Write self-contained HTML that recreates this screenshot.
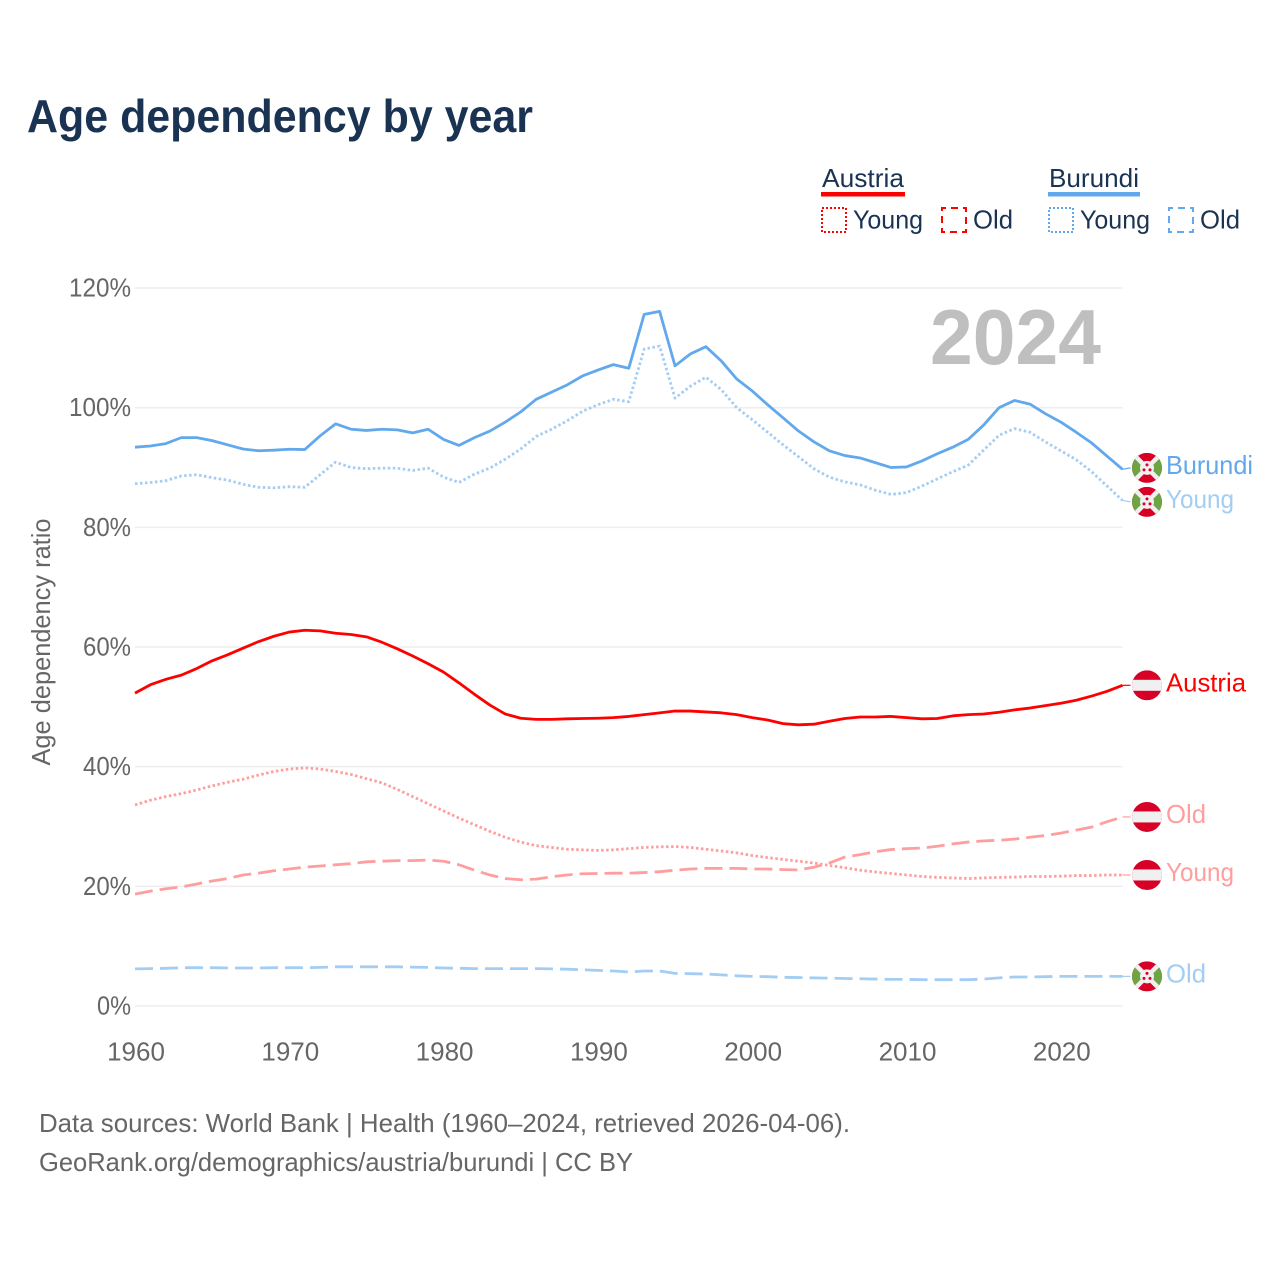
<!DOCTYPE html>
<html lang="en">
<head>
<meta charset="utf-8">
<title>Age dependency by year</title>
<style>
html,body{margin:0;padding:0;background:#fff;}
svg{display:block;}
text{font-family:"Liberation Sans",sans-serif;}
</style>
</head>
<body>
<svg id="chart" xmlns="http://www.w3.org/2000/svg" width="1280" height="1280" viewBox="0 0 1280 1280">
  <defs>
    <clipPath id="flag-clip"><circle cx="0" cy="0" r="15"/></clipPath>
    <g id="flag-austria" clip-path="url(#flag-clip)">
      <rect x="-15" y="-15" width="30" height="30" fill="#d80027"/>
      <rect x="-15" y="-5.5" width="30" height="11" fill="#f0f0f0"/>
    </g>
    <g id="flag-burundi" clip-path="url(#flag-clip)">
      <rect x="-15" y="-15" width="30" height="30" fill="#d80027"/>
      <polygon points="-15,-13 0,0 -15,13" fill="#6da544"/>
      <polygon points="15,-13 0,0 15,13" fill="#6da544"/>
      <path d="M-13,-13L13,13M13,-13L-13,13" stroke="#f0f0f0" stroke-width="4.5"/>
      <circle cx="0" cy="0" r="7" fill="#f0f0f0"/>
      <circle cx="0" cy="-3" r="1.5" fill="#d80027"/>
      <circle cx="-3" cy="2" r="1.5" fill="#d80027"/>
      <circle cx="3" cy="2" r="1.5" fill="#d80027"/>
    </g>
  </defs>

  <text x="27" y="132" font-size="46" font-weight="700" fill="#1a3353" textLength="506" lengthAdjust="spacingAndGlyphs">Age dependency by year</text>

  <g>
    <text x="822" y="187" font-size="26" fill="#1a3353" textLength="82" lengthAdjust="spacingAndGlyphs">Austria</text>
    <rect x="821" y="192" width="84" height="4.5" fill="#ff0000"/>
    <rect x="822" y="208" width="24" height="24" fill="none" stroke="#ff0000" stroke-width="2" stroke-dasharray="2 2"/>
    <text x="853" y="228.5" font-size="26" fill="#1a3353" textLength="70" lengthAdjust="spacingAndGlyphs">Young</text>
    <rect x="942" y="208" width="24" height="24" fill="none" stroke="#ff0000" stroke-width="2" stroke-dasharray="7 5" stroke-dashoffset="3"/>
    <text x="973" y="228.5" font-size="26" fill="#1a3353" textLength="40" lengthAdjust="spacingAndGlyphs">Old</text>
    <text x="1049" y="187" font-size="26" fill="#1a3353" textLength="90" lengthAdjust="spacingAndGlyphs">Burundi</text>
    <rect x="1048" y="192" width="92" height="4.5" fill="#62a8ec"/>
    <rect x="1049" y="208" width="24" height="24" fill="none" stroke="#62a8ec" stroke-width="2" stroke-dasharray="2 2"/>
    <text x="1080" y="228.5" font-size="26" fill="#1a3353" textLength="70" lengthAdjust="spacingAndGlyphs">Young</text>
    <rect x="1169" y="208" width="24" height="24" fill="none" stroke="#62a8ec" stroke-width="2" stroke-dasharray="7 5" stroke-dashoffset="3"/>
    <text x="1200" y="228.5" font-size="26" fill="#1a3353" textLength="40" lengthAdjust="spacingAndGlyphs">Old</text>
  </g>

  <g id="grid"></g>
  <g id="yticks"></g>
  <g id="xticks"></g>

  <text transform="translate(50,642) rotate(-90)" text-anchor="middle" font-size="26" fill="#666666" textLength="247" lengthAdjust="spacingAndGlyphs">Age dependency ratio</text>

  <text x="930" y="364" font-size="78" font-weight="700" fill="#bfbfbf" textLength="171" lengthAdjust="spacingAndGlyphs">2024</text>

  <g id="series"></g>
  <g id="endmarks"></g>

  <text x="39" y="1132" font-size="26" fill="#666666" textLength="811" lengthAdjust="spacingAndGlyphs">Data sources: World Bank | Health (1960–2024, retrieved 2026-04-06).</text>
  <text x="39" y="1171" font-size="26" fill="#666666" textLength="594" lengthAdjust="spacingAndGlyphs">GeoRank.org/demographics/austria/burundi | CC BY</text>
</svg>

<script>
const firstYear = 1960;
const yTicks = [0, 20, 40, 60, 80, 100, 120];
const xTicks = [1960, 1970, 1980, 1990, 2000, 2010, 2020];

const burundiTotal = [93.4,93.6,94.0,95.0,95.0,94.5,93.8,93.1,92.8,92.9,93.05,93.0,95.3,97.3,96.4,96.2,96.4,96.3,95.8,96.4,94.7,93.7,95.0,96.1,97.6,99.3,101.4,102.6,103.8,105.3,106.3,107.2,106.6,115.6,116.1,107.0,109.0,110.2,107.8,104.8,102.8,100.5,98.3,96.1,94.3,92.8,92.0,91.6,90.8,90.0,90.1,91.1,92.3,93.4,94.7,97.1,100.0,101.2,100.6,99.0,97.6,95.9,94.1,91.9,89.7];
const burundiYoung = [87.3,87.5,87.8,88.6,88.8,88.3,87.9,87.2,86.7,86.6,86.8,86.7,88.8,90.9,90.0,89.8,89.9,89.9,89.5,89.9,88.4,87.5,88.9,89.9,91.4,93.1,95.2,96.4,97.8,99.4,100.5,101.4,101.0,109.8,110.3,101.6,103.6,105.1,103.0,100.0,98.0,95.9,93.8,91.8,89.8,88.4,87.6,87.1,86.2,85.5,85.8,86.9,88.1,89.3,90.4,92.9,95.4,96.5,95.9,94.3,92.8,91.3,89.3,86.9,84.5];
const burundiOld = [6.2,6.25,6.3,6.4,6.4,6.4,6.35,6.35,6.35,6.4,6.4,6.4,6.45,6.55,6.55,6.55,6.55,6.55,6.5,6.45,6.35,6.3,6.25,6.25,6.25,6.25,6.25,6.2,6.15,6.05,5.95,5.85,5.7,5.85,5.85,5.45,5.4,5.35,5.2,5.05,4.95,4.9,4.8,4.75,4.7,4.65,4.6,4.55,4.5,4.45,4.45,4.4,4.4,4.4,4.4,4.5,4.7,4.85,4.85,4.9,4.95,4.95,4.95,4.95,4.95];

const austriaTotal = [52.3,53.7,54.6,55.3,56.4,57.7,58.7,59.8,60.9,61.8,62.5,62.8,62.7,62.3,62.1,61.7,60.8,59.7,58.5,57.2,55.8,54.0,52.1,50.3,48.8,48.1,47.9,47.9,48.0,48.05,48.1,48.2,48.4,48.7,49.0,49.3,49.3,49.15,49.0,48.7,48.2,47.8,47.2,47.0,47.1,47.6,48.05,48.3,48.3,48.4,48.2,48.0,48.05,48.5,48.7,48.8,49.1,49.5,49.8,50.2,50.6,51.1,51.8,52.6,53.6];
const austriaYoung = [33.6,34.4,35.0,35.5,36.1,36.8,37.4,37.9,38.6,39.2,39.6,39.8,39.6,39.2,38.7,38.0,37.3,36.2,35.0,33.8,32.6,31.4,30.3,29.2,28.2,27.4,26.8,26.5,26.2,26.1,26.0,26.1,26.3,26.5,26.6,26.65,26.5,26.2,25.9,25.6,25.15,24.8,24.5,24.2,23.9,23.5,23.1,22.7,22.4,22.15,21.9,21.65,21.5,21.4,21.3,21.4,21.5,21.55,21.65,21.65,21.7,21.8,21.8,21.9,21.9];
const austriaOld = [18.7,19.2,19.6,19.9,20.4,20.9,21.3,21.9,22.2,22.6,22.9,23.2,23.4,23.6,23.8,24.1,24.2,24.3,24.3,24.4,24.2,23.6,22.7,21.9,21.3,21.1,21.2,21.6,21.9,22.1,22.15,22.2,22.2,22.3,22.45,22.7,22.9,23.0,23.0,23.0,22.9,22.9,22.8,22.75,23.2,23.9,24.9,25.3,25.8,26.15,26.3,26.4,26.7,27.1,27.4,27.6,27.7,27.9,28.2,28.5,28.9,29.4,29.9,30.8,31.6];

const seriesList = [
  {key:'burundi-old', label:'Old', flag:'burundi', values:burundiOld, color:'#a3cdf3', dash:'18 7'},
  {key:'austria-old', label:'Old', flag:'austria', values:austriaOld, color:'#ff9e9e', dash:'18 7'},
  {key:'austria-young', label:'Young', flag:'austria', values:austriaYoung, color:'#ff9e9e', dash:'2.5 2.5'},
  {key:'burundi-young', label:'Young', flag:'burundi', values:burundiYoung, color:'#a3cdf3', dash:'2.5 2.5'},
  {key:'austria-total', label:'Austria', flag:'austria', values:austriaTotal, color:'#ff0000', dash:''},
  {key:'burundi-total', label:'Burundi', flag:'burundi', values:burundiTotal, color:'#62a8ec', dash:''}
];

const NS = 'http://www.w3.org/2000/svg';
const plotLeft = 135, plotRight = 1122.5, yearSpan = 64;
const plotBottom = 1006, pxPerPct = 5.983;
const xScale = function(year){ return plotLeft + (year - firstYear) * (plotRight - plotLeft) / yearSpan; };
const yScale = function(v){ return plotBottom - v * pxPerPct; };
const labelWidth = function(s){ return ({Old:40, Young:68, Austria:80, Burundi:87})[s]; };
const tickWidth = function(s){ return (s.length - 1) * 14 + 20; };

function make(tag, parent){
  const el = document.createElementNS(NS, tag);
  parent.appendChild(el);
  return el;
}

const grid = document.getElementById('grid');
const yGroup = document.getElementById('yticks');
yTicks.forEach(function(t){
  const ln = make('line', grid);
  
  
  ln.setAttribute('x1', plotLeft);
  ln.setAttribute('x2', plotRight);
  ln.setAttribute('y1', yScale(t));
  ln.setAttribute('y2', yScale(t));
  ln.setAttribute('stroke', '#eeeeee');
  ln.setAttribute('stroke-width', '1.5');
  const s = t + '%';
  const tx = make('text', yGroup);
  
  
  tx.setAttribute('x', 131);
  tx.setAttribute('y', yScale(t) + 8.5);
  tx.setAttribute('text-anchor', 'end');
  tx.setAttribute('font-size', '26');
  tx.setAttribute('fill', '#666666');
  tx.setAttribute('textLength', tickWidth(s));
  tx.setAttribute('lengthAdjust', 'spacingAndGlyphs');
  tx.textContent = s;
});

const xGroup = document.getElementById('xticks');
xTicks.forEach(function(t){
  const tx = make('text', xGroup);
  
  
  tx.setAttribute('x', xScale(t) + 1);
  tx.setAttribute('y', 1060.5);
  tx.setAttribute('text-anchor', 'middle');
  tx.setAttribute('font-size', '26');
  tx.setAttribute('fill', '#666666');
  tx.textContent = t;
});

const seriesGroup = document.getElementById('series');
seriesList.forEach(function(s){
  const d = s.values.map(function(v, i){
    return (i ? 'L' : 'M') + xScale(firstYear + i).toFixed(2) + ',' + yScale(v).toFixed(2);
  }).join('');
  const p = make('path', seriesGroup);
  
  
  p.setAttribute('data-series', s.key);
  p.setAttribute('d', d);
  p.setAttribute('fill', 'none');
  p.setAttribute('stroke', s.color);
  p.setAttribute('stroke-width', '2.8');
  p.setAttribute('stroke-linejoin', 'round');
  if (s.dash) p.setAttribute('stroke-dasharray', s.dash);
});

/* End labels: start at the last value and push apart when they would overlap. */
const minGap = 34;
const ends = seriesList.map(function(s){
  const last = yScale(s.values[s.values.length - 1]);
  return {s:s, y0:last, y:last};
}).sort(function(a, b){ return a.y0 - b.y0; });
for (let i = 1; i < ends.length; i++) {
  const gap = ends[i].y - ends[i-1].y;
  if (gap < minGap) {
    const shift = (minGap - gap) / 2;
    ends[i-1].y -= shift;
    ends[i].y += shift;
  }
}

const endGroup = document.getElementById('endmarks');
const lastX = xScale(firstYear + yearSpan);
ends.forEach(function(e){
  const ld = make('line', endGroup);
  
  
  ld.setAttribute('x1', lastX);
  ld.setAttribute('y1', e.y0);
  ld.setAttribute('x2', lastX + 8);
  ld.setAttribute('y2', e.y);
  ld.setAttribute('stroke', e.s.color);
  ld.setAttribute('stroke-width', '1.2');

  const fl = make('use', endGroup);
  
  
  fl.setAttribute('href', '#flag-' + e.s.flag);
  fl.setAttribute('transform', 'translate(1147,' + e.y.toFixed(2) + ')');

  const tx = make('text', endGroup);
  
  
  tx.setAttribute('x', 1166);
  tx.setAttribute('y', e.y + 6);
  tx.setAttribute('font-size', '26');
  tx.setAttribute('fill', e.s.color);
  tx.setAttribute('textLength', labelWidth(e.s.label));
  tx.setAttribute('lengthAdjust', 'spacingAndGlyphs');
  tx.textContent = e.s.label;
});
</script>
</body>
</html>
